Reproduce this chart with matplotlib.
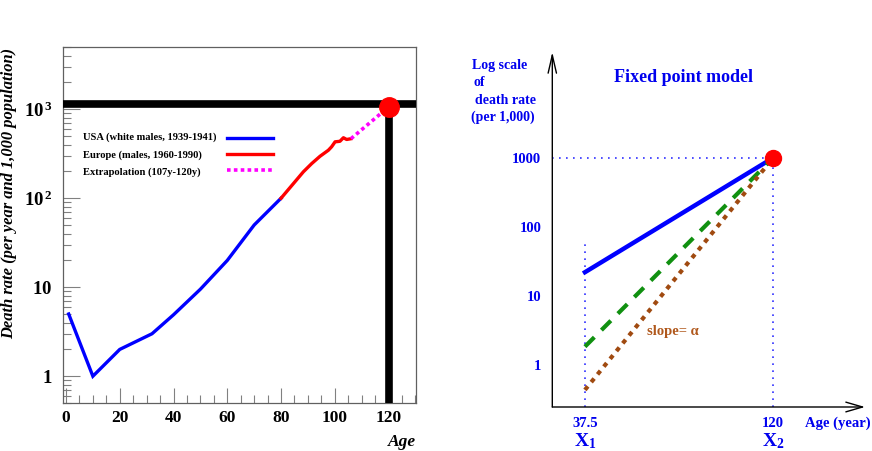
import matplotlib
matplotlib.use("Agg")
import matplotlib.pyplot as plt
from matplotlib.ticker import FixedLocator, NullLocator, MultipleLocator, LogLocator

plt.rcParams["font.family"] = ["Liberation Serif", "DejaVu Serif"]
plt.rcParams["mathtext.fontset"] = "custom"
plt.rcParams["mathtext.rm"] = "Liberation Serif"
plt.rcParams["mathtext.bf"] = "Liberation Serif:bold"
plt.rcParams["mathtext.it"] = "Liberation Serif:italic"

# ---- left panel data (age, death rate per 1,000) ----
usa_age = [1, 10, 20, 32, 40, 50, 60, 70, 80]
usa_rate = [5, 1, 2, 3, 4.9, 9.5, 20, 50, 100]
europe_age = [80, 84.6, 88.3, 91.4, 94.5, 97.6, 98.8, 100.1, 101.9, 103.2, 104.4, 106]
europe_rate = [100, 146, 198, 245, 296, 346, 378, 430, 436, 478, 457, 466]
extrap_age = [106, 120]
extrap_rate = [466, 1060]
fixed_age = 120
fixed_rate = 1130
left_xticks = [0, 20, 40, 60, 80, 100, 120]
left_yticks = [1, 10, 100, 1000]
left_ylabels = [r"$\mathbf{1}$", r"$\mathbf{10}$", r"$\mathbf{10^{\,2}}$", r"$\mathbf{10^{\,3}}$"]
legend_labels = ["USA (white males, 1939-1941)", "Europe (males, 1960-1990)",
                 "Extrapolation (107y-120y)"]

# ---- right panel data (schematic fixed point model) ----
x1 = 37.5
x2 = 120
point_rate = 1000
blue_start = 22
green_start = 1.84
brown_start = 0.435
right_yticks = [1, 10, 100, 1000]
right_ylabels = ["1", "10", "100", "1000"]

fig = plt.figure(figsize=(8.72, 4.51), dpi=100)

# ================= left panel =================
ax = fig.add_axes([63.3 / 872, 48 / 451, (416 - 63.3) / 872, (403 - 47) / 451])
ax.set_yscale("log")
ax.set_xlim(-1, 130.2)
ax.set_ylim(0.5, 5000)

ax.axhline(fixed_rate, color="black", lw=5.5, zorder=3)
ax.plot([fixed_age, fixed_age], [0.5, fixed_rate], color="black", lw=5.5, zorder=3)

l1, = ax.plot(usa_age, usa_rate, color="#0000ff", lw=2.4, solid_joinstyle="miter", zorder=4)
l2, = ax.plot(europe_age, europe_rate, color="#ff0000", lw=2.4, zorder=4)
l3, = ax.plot(extrap_age, extrap_rate, color="#ff00ff", lw=2.6, linestyle=(0, (1, 0.9)), zorder=4)
ax.plot([fixed_age], [1060], "o", color="#ff0000", ms=14, zorder=6)

ax.xaxis.set_major_locator(FixedLocator(left_xticks))
ax.xaxis.set_minor_locator(MultipleLocator(5))
ax.set_xticklabels([str(v) for v in left_xticks], fontsize=12.5, fontweight="bold")
ax.yaxis.set_major_locator(FixedLocator(left_yticks))
ax.yaxis.set_minor_locator(LogLocator(base=10, subs=range(2, 10)))
ax.set_yticklabels(left_ylabels, fontsize=13.5)
ax.tick_params(which="both", direction="in", top=False, right=False, color="#808080", width=0.8)
ax.tick_params(axis="x", which="major", length=11, pad=5)
ax.tick_params(axis="x", which="minor", length=6)
ax.tick_params(axis="y", which="major", length=12, pad=8)
ax.tick_params(axis="y", which="minor", length=6)
ax.yaxis.set_minor_formatter(plt.NullFormatter())
for s in ax.spines.values():
    s.set_color("#606060")
    s.set_linewidth(0.9)

# legend: text on the left (left aligned), line samples in a column on the right
leg = ax.legend([l1, l2, l3], ["", "", ""], loc="center left",
                bbox_to_anchor=(227 / 872, 1 - 155 / 451), bbox_transform=fig.transFigure,
                frameon=False, handlelength=4.4, handletextpad=0, handleheight=0.7,
                labelspacing=0.66, borderpad=0, borderaxespad=0,
                prop={"family": "Liberation Serif", "weight": "bold", "size": 7.6})
for i, lab in enumerate(legend_labels):
    fig.text(83 / 872, 1 - (137.5 + 17.2 * i) / 451, lab, ha="left", va="center",
             fontsize=7.6, fontweight="bold")

fig.text(9.5 / 872, 1 - 193 / 451, "Death rate (per year and 1,000 population)",
         rotation=90, ha="center", va="center", fontsize=11.9, fontweight="bold", style="italic")
fig.text(416 / 872, 1 - 442 / 451, "Age", ha="right", va="center",
         fontsize=12.5, fontweight="bold", style="italic")

# ================= right panel =================
blue = "#0000ee"
ax2 = fig.add_axes([552.3 / 872, 44 / 451, (865 - 552.3) / 872, (407 - 52) / 451])
ax2.set_yscale("log")
ax2.set_xlim(23.2, 160.2)
ax2.set_ylim(0.246, 34000)
for s in ax2.spines.values():
    s.set_visible(False)

ax2.annotate("", xy=(1, 0), xytext=(0, 0), xycoords="axes fraction",
             arrowprops=dict(arrowstyle="->,head_length=1.2,head_width=0.35", lw=1, color="black",
                             shrinkA=0, shrinkB=0))
ax2.annotate("", xy=(0, 1), xytext=(0, 0), xycoords="axes fraction",
             arrowprops=dict(arrowstyle="->,head_length=1.3,head_width=0.3", lw=1, color="black",
                             shrinkA=0, shrinkB=0))

dot = (0, (1, 3.2))
ax2.plot([23.2, x2], [point_rate, point_rate], color="#3030ff", lw=1.2, linestyle=dot)
ax2.plot([x2, x2], [0.246, point_rate], color="#3030ff", lw=1.2, linestyle=dot)
ax2.plot([x1, x1], [0.246, 65], color="#3030ff", lw=1.2, linestyle=dot)

ax2.plot([x1, x2], [blue_start, point_rate], color="#0000ff", lw=3.2, zorder=4)
ax2.plot([x1, x2], [green_start, point_rate], color="#109010", lw=3.0,
         linestyle=(0, (3.2, 2.4)), zorder=4)
ax2.plot([x1, x2], [brown_start, point_rate], color="#a04a10", lw=3.0,
         linestyle=(0, (1.1, 1.3)), zorder=4)
ax2.plot([x2], [point_rate], "o", color="#ff0000", ms=11.5, zorder=6)

ax2.yaxis.set_major_locator(FixedLocator(right_yticks))
ax2.yaxis.set_minor_locator(NullLocator())
ax2.set_yticklabels(right_ylabels, fontsize=10.5, fontweight="bold", color=blue)
ax2.xaxis.set_major_locator(FixedLocator([x1, x2]))
ax2.set_xticklabels(["37.5", "120"], fontsize=10.5, fontweight="bold", color=blue)
ax2.tick_params(length=0, pad=8)
ax2.tick_params(axis="x", pad=7)

trans = ax2.get_xaxis_transform()
ax2.text(x1, -0.095, r"$\mathbf{X_1}$", transform=trans, ha="center", va="center",
         fontsize=14, color=blue)
ax2.text(x2, -0.095, r"$\mathbf{X_2}$", transform=trans, ha="center", va="center",
         fontsize=14, color=blue)
fig.text(805 / 872, 1 - 423 / 451, "Age (year)", ha="left", va="center",
         fontsize=10.5, fontweight="bold", color=blue)

fig.text(683 / 872, 1 - 78 / 451, "Fixed point model", ha="center", va="center",
         fontsize=13, fontweight="bold", color=blue)
for txt, xp, yp in [("Log scale", 472, 65), ("of", 473, 83), ("death rate", 475, 101),
                    ("(per 1,000)", 471, 117)]:
    fig.text(xp / 872, 1 - yp / 451, txt, ha="left", va="center",
             fontsize=10, fontweight="bold", color=blue)
ax2.text(647 / 872, 1 - 331 / 451, "slope= \u03b1", transform=fig.transFigure, ha="left",
         va="center", fontsize=10.5, fontweight="bold", color="#b0581c")

fig.savefig("out.png", dpi=100)
